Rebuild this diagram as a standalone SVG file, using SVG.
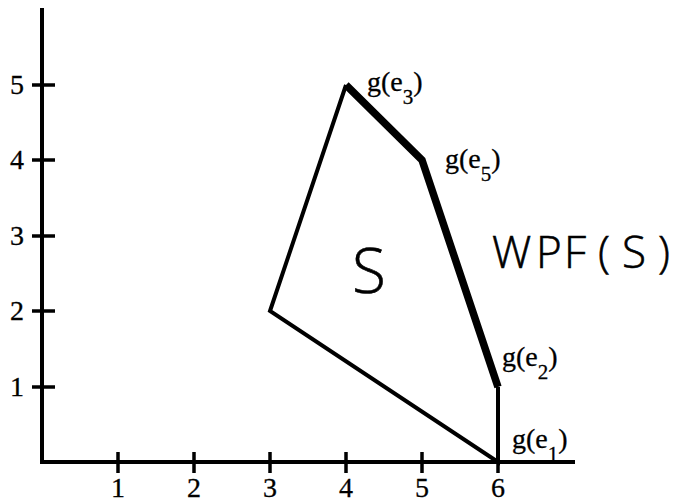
<svg xmlns="http://www.w3.org/2000/svg" width="675" height="504" viewBox="0 0 675 504">
<style>
.ax{stroke:#000;stroke-width:4;fill:none;stroke-linecap:butt}
.tk{stroke:#000;stroke-width:3.5;fill:none}
.thin{stroke:#000;stroke-width:4;fill:none;stroke-linejoin:miter}
.thick{stroke:#000;stroke-width:7.5;fill:none;stroke-linejoin:miter}
.num{font-family:"Liberation Serif","Times New Roman",serif;font-size:28px;fill:#000;stroke:#000;stroke-width:0.3}
.lbl{font-family:"Liberation Serif","Times New Roman",serif;font-size:28px;fill:#000;stroke:#000;stroke-width:0.3}
.sub{font-size:21px}
.sans{font-family:"Open Sans","DejaVu Sans","Liberation Sans",sans-serif;font-weight:300;fill:#000;stroke:#000;stroke-width:0.6}
</style>
<rect width="675" height="504" fill="#fff"/>
<g id="axes">
<line class="ax" x1="42" y1="8" x2="42" y2="464"/>
<line class="ax" x1="40" y1="462" x2="575" y2="462"/>
<g id="yticks">
<line class="tk" x1="32" y1="85" x2="55" y2="85"/>
<line class="tk" x1="32" y1="160" x2="55" y2="160"/>
<line class="tk" x1="32" y1="236" x2="55" y2="236"/>
<line class="tk" x1="32" y1="311" x2="55" y2="311"/>
<line class="tk" x1="32" y1="387" x2="55" y2="387"/>
</g>
<g id="xticks">
<line class="tk" x1="118" y1="452" x2="118" y2="473"/>
<line class="tk" x1="194" y1="452" x2="194" y2="473"/>
<line class="tk" x1="270" y1="452" x2="270" y2="473"/>
<line class="tk" x1="346" y1="452" x2="346" y2="473"/>
<line class="tk" x1="422" y1="452" x2="422" y2="473"/>
<line class="tk" x1="498" y1="452" x2="498" y2="473"/>
</g>
<g id="ylabels" class="num" text-anchor="end">
<text x="24" y="94">5</text>
<text x="24" y="169">4</text>
<text x="24" y="245">3</text>
<text x="24" y="320">2</text>
<text x="24" y="396">1</text>
</g>
<g id="xlabels" class="num" text-anchor="middle">
<text x="118" y="497">1</text>
<text x="194" y="497">2</text>
<text x="270" y="497">3</text>
<text x="346" y="497">4</text>
<text x="422" y="497">5</text>
<text x="498" y="497">6</text>
</g>
</g>
<g id="connectors">
<polyline class="thin" points="346,85 270,311 498,462 498,387"/>
<polyline class="thick" points="346,85 422,160 498,387"/>
</g>
<g id="node-S"><text class="sans" x="369" y="293" font-size="62" text-anchor="middle">S</text></g>
<g id="node-WPF"><text class="sans" x="492 536 564 598 622 658" y="268" font-size="44">WPF(S)</text></g>
<g id="label-e3"><text class="lbl" x="367" y="91">g(e<tspan class="sub" dy="13">3</tspan><tspan dy="-13">)</tspan></text></g>
<g id="label-e5"><text class="lbl" x="445" y="168">g(e<tspan class="sub" dy="13">5</tspan><tspan dy="-13">)</tspan></text></g>
<g id="label-e2"><text class="lbl" x="502" y="366">g(e<tspan class="sub" dy="13">2</tspan><tspan dy="-13">)</tspan></text></g>
<g id="label-e1"><text class="lbl" x="512" y="448">g(e<tspan class="sub" dy="13">1</tspan><tspan dy="-13">)</tspan></text></g>
</svg>
